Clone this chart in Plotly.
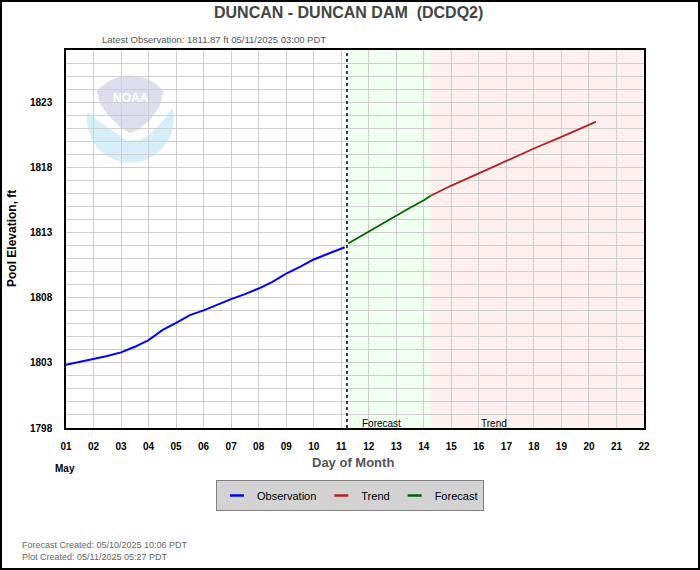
import math
import plotly.graph_objects as go

# ---------------- data ----------------
obs_times = ["2025-05-01 00:00", "2025-05-01 12:00", "2025-05-02 00:00", "2025-05-02 12:00",
             "2025-05-03 00:00", "2025-05-03 12:00", "2025-05-04 00:00", "2025-05-04 12:00",
             "2025-05-05 00:00", "2025-05-05 12:00", "2025-05-06 00:00", "2025-05-06 12:00",
             "2025-05-07 00:00", "2025-05-07 12:00", "2025-05-08 00:00", "2025-05-08 12:00",
             "2025-05-09 00:00", "2025-05-09 12:00", "2025-05-10 00:00", "2025-05-10 12:00",
             "2025-05-11 03:00"]
obs_values = [1802.85, 1803.08, 1803.26, 1803.52, 1803.80, 1804.23, 1804.74, 1805.51,
              1806.07, 1806.66, 1807.02, 1807.48, 1807.89, 1808.27, 1808.70, 1809.21,
              1809.85, 1810.36, 1810.93, 1811.35, 1811.87]

fcst_times = ["2025-05-11 06:00", "2025-05-12 00:00", "2025-05-12 12:00", "2025-05-13 00:00",
              "2025-05-13 12:00", "2025-05-14 00:00", "2025-05-14 06:00"]
fcst_values = [1812.15, 1813.08, 1813.70, 1814.31, 1814.90, 1815.47, 1815.82]

trend_times = ["2025-05-14 06:00", "2025-05-15 00:00", "2025-05-16 00:00", "2025-05-17 00:00",
               "2025-05-18 00:00", "2025-05-19 00:00", "2025-05-20 00:00", "2025-05-20 06:00"]
trend_values = [1815.82, 1816.60, 1817.53, 1818.50, 1819.44, 1820.34, 1821.25, 1821.48]

obs_line_time = "2025-05-11 05:00"
forecast_start = "2025-05-11 05:00"
trend_start = "2025-05-14 06:00"
axis_start = "2025-05-01 00:00"
axis_end = "2025-05-22 00:00"
y_range = [1798, 1827]

title_text = "DUNCAN - DUNCAN DAM  (DCDQ2)"
subtitle_text = "Latest Observation: 1811.87 ft 05/11/2025 03:00 PDT"
footer1 = "Forecast Created: 05/10/2025 10:06 PDT"
footer2 = "Plot Created: 05/11/2025 05:27 PDT"

# ---------------- layout geometry ----------------
W, H = 700, 570
L, R, T, B = 66, 56, 50, 142
PW, PH = W - L - R, H - T - B
FONT = "Liberation Sans, Arial, sans-serif"


def px(x):
    return (x - L) / PW


def py(y):
    return (H - B - y) / PH


OBS_C, TREND_C, FCST_C = "#0000ff", "#b22222", "#006400"
GRID = "#cfcfcf"

fig = go.Figure()
fig.add_trace(go.Scatter(x=obs_times, y=obs_values, mode="lines",
                         line=dict(color=OBS_C, width=2), showlegend=False))
fig.add_trace(go.Scatter(x=fcst_times, y=fcst_values, mode="lines",
                         line=dict(color=FCST_C, width=1.8), showlegend=False))
fig.add_trace(go.Scatter(x=trend_times, y=trend_values, mode="lines",
                         line=dict(color=TREND_C, width=1.8), showlegend=False))
# legend entries
for name, c in [("Observation", OBS_C), ("Trend", TREND_C), ("Forecast", FCST_C)]:
    fig.add_trace(go.Scatter(x=[None], y=[None], mode="markers", name=name,
                             marker=dict(symbol="line-ew", size=10,
                                         line=dict(color=c, width=2.5))))

shapes = []
# shaded regions
shapes.append(dict(type="rect", xref="x", yref="paper", x0=forecast_start, x1=trend_start,
                   y0=0, y1=1, fillcolor="rgb(240,255,240)", line=dict(width=0), layer="below"))
shapes.append(dict(type="rect", xref="x", yref="paper", x0=trend_start, x1=axis_end,
                   y0=0, y1=1, fillcolor="rgb(255,240,240)", line=dict(width=0), layer="below"))

# NOAA watermark (decorative)
cx, cy, r = 130.3, 119.2, 43.5
shapes.append(dict(type="circle", xref="paper", yref="paper",
                   x0=px(cx - r), x1=px(cx + r), y0=py(cy + r), y1=py(cy - r),
                   fillcolor="rgb(214,238,248)", line=dict(width=0), layer="below"))


def arc(a0, a1, n=24):
    pts = []
    for i in range(n + 1):
        a = math.radians(a0 + (a1 - a0) * i / n)
        pts.append((cx + r * math.cos(a), cy + r * math.sin(a)))
    return pts


def path(pts):
    return "M " + " L ".join(f"{px(x):.5f},{py(y):.5f}" for x, y in pts) + " Z"


white_pts = arc(-170.5, -15) + [(162, 122), (150, 134), (140, 140), (127, 141),
                                (113, 131), (100, 122)]
shapes.append(dict(type="path", xref="paper", yref="paper", path=path(white_pts),
                   fillcolor="white", line=dict(width=0), layer="below"))
grey_pts = arc(-140, -40) + [(160, 106), (150, 120), (138, 130), (130, 133),
                             (120, 127), (108, 115), (100, 104)]
shapes.append(dict(type="path", xref="paper", yref="paper", path=path(grey_pts),
                   fillcolor="rgb(221,223,238)", line=dict(width=0), layer="below"))

# dotted "now" line
shapes.append(dict(type="line", xref="x", yref="paper", x0=obs_line_time, x1=obs_line_time,
                   y0=0, y1=1, line=dict(color="black", width=1.5, dash="dot")))
# outer frame
shapes.append(dict(type="rect", xref="paper", yref="paper",
                   x0=px(1), x1=px(W - 1), y0=py(H - 1), y1=py(1),
                   line=dict(color="black", width=2), fillcolor="rgba(0,0,0,0)"))

annotations = [
    dict(text="NOAA", xref="paper", yref="paper", x=px(130.5), y=py(98), showarrow=False,
         xanchor="center", yanchor="middle",
         font=dict(family=FONT, size=12, color="white", weight="bold")),
    dict(text=title_text, xref="paper", yref="paper", x=px(348), y=py(13), showarrow=False,
         xanchor="center", yanchor="middle",
         font=dict(family=FONT, size=16, color="#444444", weight="bold")),
    dict(text=subtitle_text, xref="paper", yref="paper", x=px(100), y=py(40), showarrow=False,
         xanchor="left", yanchor="middle", font=dict(family=FONT, size=9.5, color="#555555")),
    dict(text="Pool Elevation, ft", xref="paper", yref="paper", x=px(12), y=py(239),
         showarrow=False, textangle=-90, xanchor="center", yanchor="middle",
         font=dict(family=FONT, size=12, color="black", weight="bold")),
    dict(text="Day of Month", xref="paper", yref="paper", x=px(353), y=py(462),
         showarrow=False, xanchor="center", yanchor="middle",
         font=dict(family=FONT, size=13, color="#555555", weight="bold")),
    dict(text="May", xref="paper", yref="paper", x=px(65), y=py(468), showarrow=False,
         xanchor="center", yanchor="middle",
         font=dict(family=FONT, size=10, color="black", weight="bold")),
    dict(text="Forecast", xref="x", yref="paper", x="2025-05-12 11:30", y=0, showarrow=False,
         xanchor="center", yanchor="bottom", yshift=-3,
         font=dict(family=FONT, size=10, color="black")),
    dict(text="Trend", xref="x", yref="paper", x="2025-05-16 13:00", y=0, showarrow=False,
         xanchor="center", yanchor="bottom", yshift=-3,
         font=dict(family=FONT, size=10, color="black")),
    dict(text=footer1, xref="paper", yref="paper", x=px(20), y=py(545), showarrow=False,
         xanchor="left", yanchor="middle", font=dict(family=FONT, size=9, color="#666666")),
    dict(text=footer2, xref="paper", yref="paper", x=px(20), y=py(557), showarrow=False,
         xanchor="left", yanchor="middle", font=dict(family=FONT, size=9, color="#666666")),
]

fig.update_layout(
    width=W, height=H,
    margin=dict(l=L, r=R, t=T, b=B, autoexpand=False),
    paper_bgcolor="white", plot_bgcolor="white",
    font=dict(family=FONT, color="black"),
    shapes=shapes, annotations=annotations,
    showlegend=True,
    legend=dict(orientation="h", x=px(350), y=py(480), xanchor="center", yanchor="top",
                bgcolor="#d3d3d3", bordercolor="#808080", borderwidth=1,
                font=dict(family=FONT, size=11, color="black"),
                itemwidth=30, tracegroupgap=0),
    xaxis=dict(type="date", range=[axis_start, axis_end], dtick=86400000, tick0=axis_start,
               tickformat="%d", showgrid=True, gridcolor=GRID, gridwidth=1,
               showline=True, linecolor="black", linewidth=1.5, mirror=True,
               ticks="", ticklabelstandoff=8, zeroline=False,
               tickfont=dict(family=FONT, size=10, color="black", weight="bold")),
    yaxis=dict(range=y_range, tick0=1798, dtick=5, showgrid=True, gridcolor=GRID, gridwidth=1,
               minor=dict(dtick=1, showgrid=True, gridcolor=GRID, gridwidth=1),
               showline=True, linecolor="black", linewidth=1.5, mirror=True,
               ticks="", ticklabelstandoff=10, zeroline=False,
               tickfont=dict(family=FONT, size=10, color="black", weight="bold")),
)

fig.write_html("out.html", config={"displayModeBar": False},
               post_script="document.body.style.margin='0';")
